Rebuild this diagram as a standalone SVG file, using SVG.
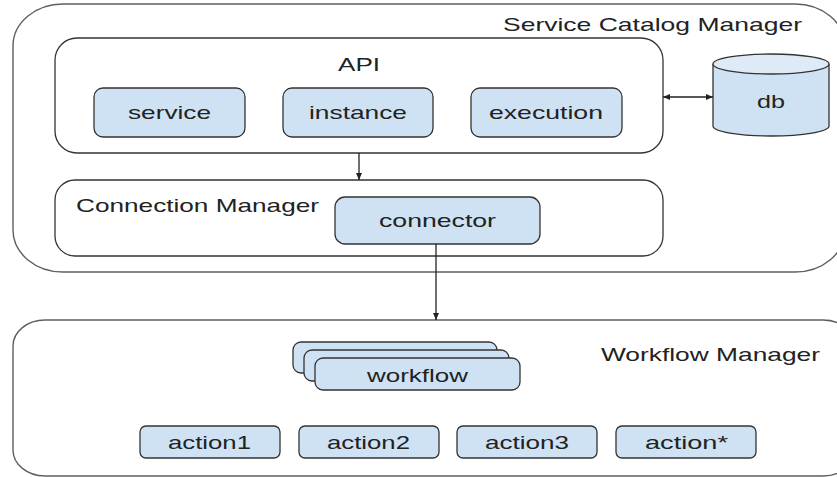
<svg xmlns="http://www.w3.org/2000/svg" width="837" height="477" viewBox="0 0 837 477">
<defs>
<style>
.outer{fill:#ffffff;stroke:#5f5f5f;stroke-width:1.4}
.group{fill:#ffffff;stroke:#333333;stroke-width:1.3}
.box{fill:#cfe2f3;stroke:#333333;stroke-width:1.3}
.lbl{font-family:"Liberation Sans",Arial,sans-serif;font-size:19px;fill:#222222}
.conn{stroke:#222222;stroke-width:1.3;fill:none}
</style>
<marker id="ah" markerUnits="userSpaceOnUse" markerWidth="8" markerHeight="8" refX="7" refY="4" orient="auto-start-reverse">
<path d="M0,1 L7,4 L0,7 Z" fill="#222222"/>
</marker>
</defs>
<rect width="837" height="477" fill="#ffffff"/>

<g id="service-catalog-manager">
<rect class="outer" x="13" y="4" width="832" height="268" rx="50" ry="42"/>
<text class="lbl" x="503" y="31" textLength="299" lengthAdjust="spacingAndGlyphs">Service Catalog Manager</text>
</g>

<g id="api">
<rect class="group" x="55" y="38" width="608" height="115" rx="22" ry="22"/>
<text class="lbl" x="338" y="71" textLength="42" lengthAdjust="spacingAndGlyphs">API</text>
</g>

<g id="service">
<rect class="box" x="94" y="88" width="151" height="49" rx="9" ry="9"/>
<text class="lbl" x="128" y="119" textLength="83" lengthAdjust="spacingAndGlyphs">service</text>
</g>

<g id="instance">
<rect class="box" x="283" y="88" width="150" height="49" rx="9" ry="9"/>
<text class="lbl" x="309" y="119" textLength="98" lengthAdjust="spacingAndGlyphs">instance</text>
</g>

<g id="execution">
<rect class="box" x="471" y="88" width="151" height="49" rx="9" ry="9"/>
<text class="lbl" x="489" y="119" textLength="114" lengthAdjust="spacingAndGlyphs">execution</text>
</g>

<g id="db">
<path class="box" d="M713,64 L713,126 A58,10 0 0 0 829,126 L829,64"/>
<ellipse cx="771" cy="64" rx="58" ry="10" fill="#deebf7" stroke="#333333" stroke-width="1.3"/>
<text class="lbl" x="757" y="108" textLength="28" lengthAdjust="spacingAndGlyphs">db</text>
</g>

<g id="connection-manager">
<rect class="group" x="55" y="180" width="608" height="76" rx="20" ry="20"/>
<text class="lbl" x="76" y="212" textLength="243" lengthAdjust="spacingAndGlyphs">Connection Manager</text>
</g>

<g id="connector">
<rect class="box" x="335" y="197" width="205" height="47" rx="10" ry="10"/>
<text class="lbl" x="379" y="227" textLength="117" lengthAdjust="spacingAndGlyphs">connector</text>
</g>

<g id="workflow-manager">
<rect class="outer" x="13" y="320" width="842" height="156" rx="32" ry="26"/>
<text class="lbl" x="601" y="361" textLength="219" lengthAdjust="spacingAndGlyphs">Workflow Manager</text>
</g>

<g id="workflow">
<rect class="box" x="293" y="342" width="204" height="31" rx="8" ry="8"/>
<rect class="box" x="304" y="350" width="205" height="31" rx="8" ry="8"/>
<rect class="box" x="315" y="358" width="205" height="32" rx="8" ry="8"/>
<text class="lbl" x="367" y="382" textLength="101" lengthAdjust="spacingAndGlyphs">workflow</text>
</g>

<g id="action1">
<rect class="box" x="140" y="426" width="140" height="32" rx="6" ry="6"/>
<text class="lbl" x="168" y="449" textLength="83" lengthAdjust="spacingAndGlyphs">action1</text>
</g>
<g id="action2">
<rect class="box" x="299" y="426" width="140" height="32" rx="6" ry="6"/>
<text class="lbl" x="327" y="449" textLength="83" lengthAdjust="spacingAndGlyphs">action2</text>
</g>
<g id="action3">
<rect class="box" x="457" y="426" width="140" height="32" rx="6" ry="6"/>
<text class="lbl" x="485" y="449" textLength="84" lengthAdjust="spacingAndGlyphs">action3</text>
</g>
<g id="action-star">
<rect class="box" x="616" y="426" width="140" height="32" rx="6" ry="6"/>
<text class="lbl" x="645" y="449" textLength="83" lengthAdjust="spacingAndGlyphs">action*</text>
</g>

<g id="connectors">
<line class="conn" x1="359" y1="153" x2="359" y2="180" marker-end="url(#ah)"/>
<line class="conn" x1="436" y1="244" x2="436" y2="320" marker-end="url(#ah)"/>
<line class="conn" x1="663" y1="97" x2="713" y2="97" marker-start="url(#ah)" marker-end="url(#ah)"/>
</g>
</svg>
